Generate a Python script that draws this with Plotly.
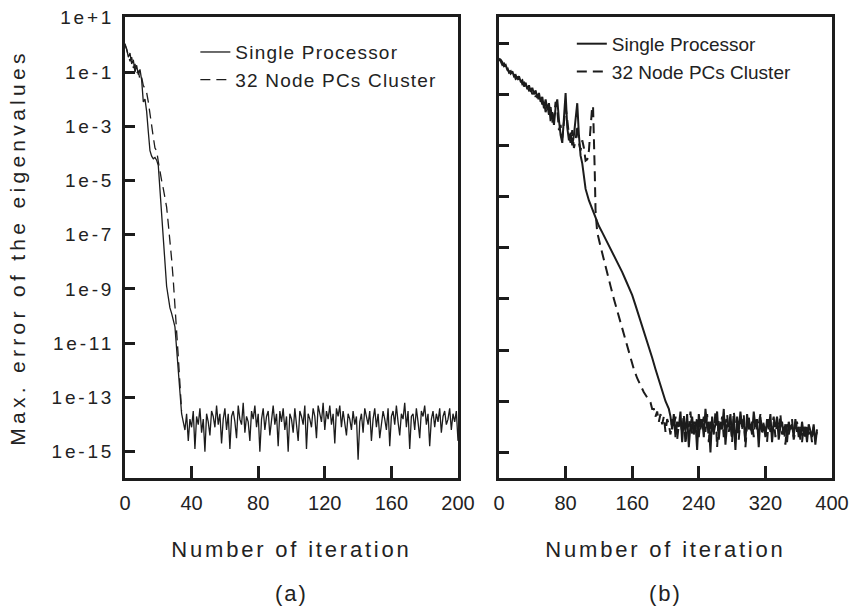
import plotly.graph_objects as go

# ---------------- data (log10 of the max. eigenvalue error) ----------------
# Panel (a): 200 iterations
iter_a_single = list(range(0, 201))
single_a_log10 = [
    0.0, -0.15, -0.45, -0.3, -0.7, -0.55, -1.0, -0.75, -1.1, -0.9,
    -1.3, -2.1, -2.0, -2.45, -3.2, -3.9, -4.1, -4.2, -4.15, -4.25,
    -4.45, -5.3, -6.3, -7.2, -8.1, -8.9, -9.3, -9.7, -9.9, -10.15,
    -10.4, -11.2, -11.9, -12.6, -13.6,
    -13.9, -14.2, -13.6, -14.6, -13.8, -14.1, -13.5, -14.9, -13.7, -14.0,
    -13.4, -14.3, -13.8, -15.0, -13.6, -13.9, -14.4, -13.5, -13.7, -14.1,
    -13.3, -14.0, -13.6, -14.7, -13.8, -13.4, -14.2, -13.6, -14.9, -13.7,
    -13.5, -13.9, -14.5, -13.3, -13.8, -14.0, -13.2, -14.3, -13.7, -13.9,
    -14.6, -13.5, -13.8, -13.3, -14.1, -13.6, -15.0, -13.8, -13.4, -14.2,
    -13.7, -13.5, -14.4, -13.9, -13.3, -14.0, -13.6, -14.8, -13.5, -13.9,
    -13.4, -14.2, -13.7, -15.0, -13.6, -13.8, -14.3, -13.4, -13.9, -14.6,
    -13.5, -13.7, -14.0, -13.3, -14.9, -13.6, -13.8, -14.1, -13.4, -13.7,
    -14.5, -13.3, -13.6, -13.9, -13.2, -14.2, -13.5, -13.8, -13.3, -14.0,
    -13.6, -14.7, -13.4, -13.7, -13.3, -14.1, -13.5, -13.9, -14.4, -13.6,
    -13.8, -14.2, -13.5, -14.0, -13.7, -15.3, -13.9, -13.6, -14.3, -13.4,
    -13.7, -14.0, -13.5, -14.6, -13.8, -13.4, -14.1, -13.6, -14.5, -13.9,
    -13.5, -13.8, -14.2, -13.4, -14.8, -13.7, -13.5, -14.0, -13.3, -13.9,
    -14.4, -13.6, -13.8, -13.2, -14.1, -13.5, -14.9, -13.7, -13.6, -14.2,
    -13.4, -13.9, -14.5, -13.5, -13.7, -13.3, -14.0, -13.6, -14.8, -13.8,
    -13.5, -14.1, -13.6, -13.9, -13.4, -14.3, -13.7, -13.5, -14.0, -13.8,
    -13.4, -14.2, -13.6, -13.9, -13.5, -14.6,
]
iter_a_cluster = list(range(0, 35))
cluster_a_log10 = [
    0.05, -0.2, -0.35, -0.6, -0.45, -0.85, -0.7, -1.05, -0.95, -1.3,
    -1.2, -1.5, -1.6, -1.75, -2.1, -2.6, -3.0, -3.4, -3.8, -3.9,
    -4.3, -4.7, -5.0, -5.3, -5.65, -5.98, -6.6, -7.2, -7.9, -8.68,
    -9.78, -10.6, -11.5, -12.5, -13.5,
]

# Panel (b): 400 iterations
iter_b_single = list(range(0, 101, 2)) + list(range(104, 205, 4)) + list(range(206, 383, 2))
single_b_log10 = [
    0.4, 0.35, 0.25, 0.1, 0.15, -0.05, -0.1, -0.2, -0.1, -0.3,
    -0.25, -0.4, -0.3, -0.5, -0.45, -0.7, -0.55, -0.8, -0.65, -0.9,
    -0.75, -1.0, -0.85, -1.15, -0.95, -1.3, -1.1, -1.55, -1.2, -1.6,
    -1.35, -2.05, -1.7, -2.2, -1.5, -1.2, -2.0, -2.6, -2.9, -1.8,
    -0.95, -2.3, -2.8, -2.5, -3.0, -2.6, -1.9, -1.35, -2.6, -3.4,
    -3.7,
    -4.7, -5.15, -5.5, -5.85, -6.15, -6.4, -6.65, -6.9, -7.15, -7.4,
    -7.68, -7.95, -8.25, -8.55, -8.85, -9.25, -9.65, -10.05, -10.45, -10.85,
    -11.3, -11.75, -12.2, -12.65, -13.0, -13.3,
    -13.6, -14.1, -13.5, -14.4, -13.8, -14.0, -13.4, -14.6, -13.7, -14.2,
    -13.5, -14.8, -13.9, -13.6, -14.3, -13.8, -14.9, -13.5, -14.1, -13.7,
    -14.4, -13.3, -14.0, -13.8, -15.0, -13.6, -14.2, -13.9, -13.4, -14.5,
    -13.8, -14.1, -13.3, -14.7, -13.9, -14.0, -13.5, -14.4, -13.7, -14.9,
    -13.6, -14.2, -13.4, -14.0, -13.8, -14.6, -13.5, -14.1, -13.9, -14.3,
    -13.4, -14.0, -13.7, -14.8, -13.6, -14.2, -13.9, -14.4, -13.7, -14.1,
    -13.5, -14.6, -13.8, -14.0, -13.6, -14.5, -14.0, -13.8, -14.3, -13.9,
    -14.6, -13.8, -14.1, -13.9, -14.4, -13.7, -14.2, -14.0, -14.5, -13.8,
    -14.3, -14.0, -14.6, -13.9, -14.2, -14.4, -13.9, -14.7, -14.1,
]
iter_b_cluster = (list(range(0, 101, 2)) + [102, 104, 106, 108, 110, 112, 113, 114, 115, 116, 118]
                  + list(range(122, 183, 4)) + [184] + list(range(186, 383, 2)))
cluster_b_log10 = [
    0.35, 0.3, 0.15, 0.2, 0.0, 0.05, -0.15, -0.1, -0.3, -0.2,
    -0.4, -0.35, -0.5, -0.4, -0.6, -0.55, -0.75, -0.7, -0.85, -0.8,
    -1.0, -0.9, -1.1, -1.0, -1.25, -1.1, -1.4, -1.25, -1.7, -1.4,
    -1.8, -1.5, -2.1, -1.9, -1.3, -1.6, -2.4, -2.2, -2.7, -2.1,
    -1.5, -2.0, -2.6, -2.9, -2.4, -3.1, -2.8, -2.2, -2.9, -3.2,
    -2.8,
    -3.1, -3.6, -3.55, -3.2, -2.3, -1.45, -1.5, -2.5, -4.0, -5.6, -6.4,
    -6.95, -7.5, -8.0, -8.5, -9.0, -9.45, -9.9, -10.35, -10.85, -11.35,
    -11.75, -12.1, -12.4, -12.65, -12.85, -13.05,
    -13.3,
    -13.3, -13.6, -13.4, -13.8, -13.5, -13.9, -13.6, -14.2, -13.7, -13.9,
    -14.3, -13.7, -14.0, -13.6, -14.5, -13.9, -13.8, -14.2, -13.5, -14.7,
    -13.9, -14.0, -13.4, -14.3, -13.8, -14.1, -13.6, -14.4, -13.7, -14.0,
    -13.6, -14.2, -13.5, -14.6, -13.8, -13.9, -14.3, -13.4, -14.8, -13.7,
    -14.1, -13.6, -14.4, -13.9, -13.5, -14.2, -13.8, -14.6, -13.4, -14.0,
    -13.9, -14.5, -13.7, -14.1, -13.5, -14.8, -13.9, -13.6, -14.2, -13.8,
    -14.4, -13.6, -14.1, -13.9, -13.5, -14.3, -13.8, -14.0, -14.6, -13.7,
    -14.2, -13.9, -13.6, -14.4, -13.8, -14.1, -13.5, -14.3, -13.9, -14.7,
    -13.9, -14.3, -14.0, -13.7, -14.5, -14.1, -13.8, -14.4, -14.0, -14.6,
    -14.0, -14.5, -13.9, -14.3, -14.1, -14.6, -14.0, -14.4, -14.2,
]

series_names = ["Single Processor", "32 Node PCs Cluster"]
x_ticks_a = [0, 40, 80, 120, 160, 200]
x_ticks_b = [0, 80, 160, 240, 320, 400]
y_tick_exps = [1, -1, -3, -5, -7, -9, -11, -13, -15]
y_tick_labels = ["1e+1", "1e-1", "1e-3", "1e-5", "1e-7", "1e-9", "1e-11", "1e-13", "1e-15"]
x_title = "Number of iteration"
y_title = "Max. error of the eigenvalues"
panel_labels = ["(a)", "(b)"]


def tolin(v):
    return [10 ** e for e in v]


INK = "#1c1c1c"
FONT = "Liberation Sans, Arial, Helvetica, sans-serif"

fig = go.Figure()
fig.add_trace(go.Scatter(x=iter_a_single, y=tolin(single_a_log10), mode="lines",
                         name=series_names[0], line=dict(color=INK, width=1.3),
                         xaxis="x", yaxis="y", legend="legend"))
fig.add_trace(go.Scatter(x=iter_a_cluster, y=tolin(cluster_a_log10), mode="lines",
                         name=series_names[1], line=dict(color=INK, width=1.3, dash="10px,6px"),
                         xaxis="x", yaxis="y", legend="legend"))
fig.add_trace(go.Scatter(x=iter_b_single, y=tolin(single_b_log10), mode="lines",
                         name=series_names[0], line=dict(color=INK, width=2),
                         xaxis="x2", yaxis="y2", legend="legend2"))
fig.add_trace(go.Scatter(x=iter_b_cluster, y=tolin(cluster_b_log10), mode="lines",
                         name=series_names[1], line=dict(color=INK, width=2, dash="10px,6px"),
                         xaxis="x2", yaxis="y2", legend="legend2"))

axis_common = dict(showline=True, linewidth=3, linecolor=INK, mirror=True,
                   ticks="inside", tickcolor=INK, tickwidth=2.5,
                   showgrid=False, zeroline=False, automargin=False)

fig.update_layout(
    width=853, height=610,
    margin=dict(l=125, r=21, t=17, b=132, autoexpand=False),
    paper_bgcolor="white", plot_bgcolor="white",
    font=dict(family=FONT, color="#222", size=19),
    xaxis=dict(domain=[0, 0.471], range=[0, 200], tickvals=x_ticks_a, ticklen=12,
               tickfont=dict(size=20), ticklabelstandoff=5,
               title=dict(text=x_title, font=dict(size=22), standoff=29),
               anchor="y", **axis_common),
    yaxis=dict(type="log", range=[-15.97, 1.03],
               tickvals=[10 ** e for e in y_tick_exps], ticktext=y_tick_labels,
               ticklen=10, tickfont=dict(size=19), ticklabelstandoff=4,
               title=dict(text=y_title, font=dict(size=21), standoff=35),
               anchor="x", **axis_common),
    xaxis2=dict(domain=[0.529, 1], range=[0, 400], tickvals=x_ticks_b, ticklen=12,
                tickfont=dict(size=20), ticklabelstandoff=5,
                title=dict(text=x_title, font=dict(size=22), standoff=29),
                anchor="y2", **axis_common),
    yaxis2=dict(type="log", range=[-16, 2.02],
                tickvals=[10 ** e for e in y_tick_exps], showticklabels=False,
                ticklen=10, anchor="x2", **axis_common),
    legend=dict(x=0.0995, y=0.965, xanchor="left", yanchor="top",
                bgcolor="rgba(0,0,0,0)", font=dict(size=19)),
    legend2=dict(x=0.632, y=0.983, xanchor="left", yanchor="top",
                 bgcolor="rgba(0,0,0,0)", font=dict(size=19)),
    annotations=[
        dict(text=panel_labels[0], x=0.2355, y=-0.2516, xref="paper", yref="paper",
             showarrow=False, font=dict(size=22), xanchor="center", yanchor="middle"),
        dict(text=panel_labels[1], x=0.7645, y=-0.2516, xref="paper", yref="paper",
             showarrow=False, font=dict(size=22), xanchor="center", yanchor="middle"),
    ],
)

post = """
document.documentElement.style.margin = '0';
document.body.style.margin = '0';
document.body.style.padding = '0';
var gd = document.getElementById('{plot_id}');
function ls(sel, v) { gd.querySelectorAll(sel).forEach(function (t) { t.style.letterSpacing = v; }); }
ls('text.ytitle', '4.3px');
ls('text.xtitle, text.x2title', '2.8px');
ls('g.ytick text', '2.8px');
ls('text.legendtext', '1.2px');
ls('.annotation-text', '2px');
gd.querySelectorAll('[class^="legend"] .scrollbox, g.legend, g.legend2').forEach(function (e) { e.removeAttribute('clip-path'); });
"""

fig.write_html("out.html", post_script=post, config={"displayModeBar": False})
